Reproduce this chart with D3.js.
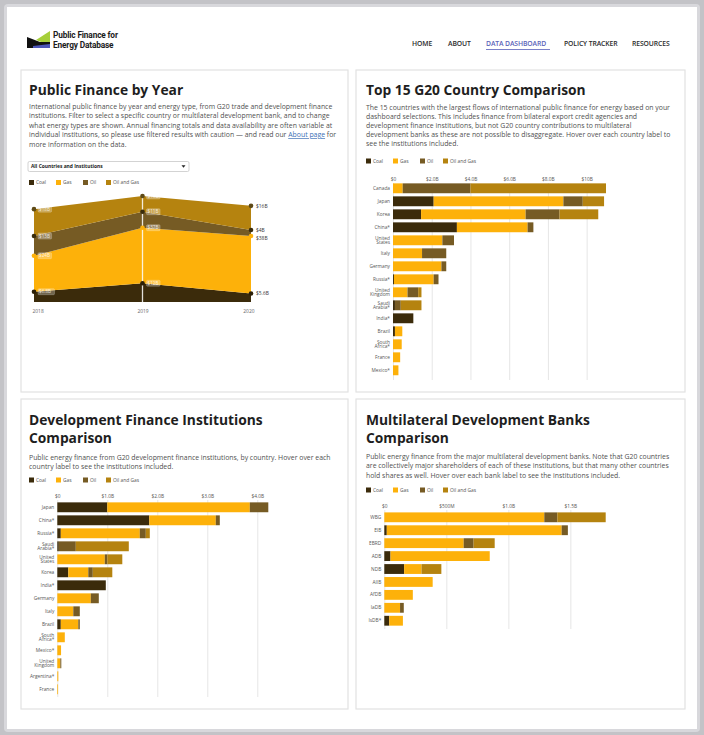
<!DOCTYPE html>
<html><head><meta charset="utf-8">
<script src="https://cdn.jsdelivr.net/npm/d3@7"></script>
<style>
html,body{margin:0;padding:0;background:#c3c3c7;}
svg{display:block;font-family:"Open Sans",sans-serif;}
</style></head><body>
<svg id="page" width="704" height="735"></svg>
<script>
// ---- energy types ----
const energyTypes = ["Coal", "Gas", "Oil", "Oil and Gas"];
const energyColors = ["#3b2b0b", "#fdb10a", "#765b24", "#b5830f"];

// ---- public finance by year ($B) ----
const years = ["2018", "2019", "2020"];
const coalByYear = [6.8, 12.4, 5.6];
const gasByYear = [23.8, 36.7, 38];
const oilByYear = [13.0, 10.6, 4];
const oilGasByYear = [17.8, 10.4, 16];

// ---- top 15 G20 countries ($B) ----
const g20Countries = ["Canada", "Japan", "Korea", "China*", "United States", "Italy", "Germany", "Russia*",
  "United Kingdom", "Saudi Arabia*", "India*", "Brazil", "South Africa*", "France", "Mexico*"];
const g20Coal   = [0, 2.1, 1.45, 3.3, 0, 0, 0, 0.05, 0, 0.1, 1.05, 0.1, 0, 0, 0];
const g20Gas    = [0.5, 6.7, 5.4, 3.65, 2.55, 1.5, 2.5, 2.05, 0.75, 0, 0, 0.38, 0.45, 0.37, 0.28];
const g20Oil    = [3.5, 1.0, 1.75, 0.3, 0.6, 1.25, 0.25, 0.25, 0.55, 0.3, 0, 0, 0, 0, 0];
const g20OilGas = [7.0, 1.1, 2.0, 0, 0, 0, 0, 0, 0.17, 1.07, 0, 0, 0, 0, 0];
const g20Ticks = [0, 2, 4, 6, 8, 10];

// ---- development finance institutions ($B) ----
const dfiCountries = ["Japan", "China*", "Russia*", "Saudi Arabia*", "United States", "Korea", "India*", "Germany",
  "Italy", "Brazil", "South Africa*", "Mexico*", "United Kingdom", "Argentina*", "France"];
const dfiCoal   = [1.0, 1.84, 0.07, 0.03, 0, 0.22, 0.97, 0, 0, 0.07, 0, 0, 0, 0, 0];
const dfiGas    = [2.85, 1.33, 1.58, 0, 0.95, 0.4, 0, 0.67, 0.32, 0.35, 0.15, 0.075, 0.06, 0.02, 0.015];
const dfiOil    = [0.37, 0.08, 0.12, 0.34, 0.05, 0.09, 0, 0.16, 0.13, 0.03, 0, 0, 0.02, 0, 0];
const dfiOilGas = [0, 0, 0.08, 1.06, 0.3, 0.39, 0, 0, 0, 0, 0, 0, 0, 0, 0];
const dfiTicks = [0, 1, 2, 3, 4];

// ---- multilateral development banks ($B) ----
const banks = ["WBG", "EIB", "EBRD", "ADB", "NDB", "AIIB", "AfDB", "IaDB", "IsDB*"];
const mdbCoal   = [0, 0.02, 0, 0.05, 0.16, 0, 0, 0, 0.04];
const mdbGas    = [1.29, 1.41, 0.64, 0.80, 0.14, 0.39, 0.23, 0.127, 0.11];
const mdbOil    = [0.105, 0.05, 0.08, 0, 0, 0, 0, 0.03, 0];
const mdbOilGas = [0.39, 0, 0.17, 0, 0.16, 0, 0, 0, 0];
const mdbTicks = [0, 0.5, 1, 1.5];

const navItems = ["HOME", "ABOUT", "DATA DASHBOARD", "POLICY TRACKER", "RESOURCES"];

const svg = d3.select("#page");
const color = d3.scaleOrdinal().domain(energyTypes).range(energyColors);

function fmtB(v) {
  if (v === 0) return "$0";
  if (v < 1) return "$" + Math.round(v * 1000) + "M";
  return v >= 10 ? "$" + Math.round(v) + "B" : "$" + v.toFixed(1) + "B";
}
function fmtShort(v) {
  return v >= 10 ? "$" + Math.round(v) + "B" : "$" + (+v.toFixed(1)) + "B";
}
function rows(cats, a, b, c, d) {
  return cats.map((k, i) => ({key: k, "Coal": a[i], "Gas": b[i], "Oil": c[i], "Oil and Gas": d[i]}));
}

// ---- page frame ----
svg.append("rect").attr("x", 0).attr("y", 0).attr("width", 704).attr("height", 735).attr("fill", "#c3c3c7");
svg.append("rect").attr("x", 4).attr("y", 4).attr("width", 696).attr("height", 728).attr("rx", 4).attr("fill", "#d8d8dc");
svg.append("rect").attr("x", 7).attr("y", 7).attr("width", 690).attr("height", 722).attr("fill", "#ffffff");

// ---- header ----
const logo = svg.append("g");
logo.append("polygon").attr("points", "27,37 40,42 50,42 50,46 27,46").attr("fill", "#111");
logo.append("polygon").attr("points", "36,40 50,31 50,42 41,42").attr("fill", "#a6cf3a");
logo.append("polygon").attr("points", "33,46 50,44 50,48 33,48").attr("fill", "#4d56b8");
logo.append("polygon").attr("points", "27,46 33,46 33,48 27,48").attr("fill", "#111");
const logoText = logo.append("g").attr("font-family", "Roboto").attr("font-size", 8.3).attr("font-weight", 700)
  .attr("fill", "#1c1c1c").attr("letter-spacing", -0.15);
logoText.append("text").attr("x", 53).attr("y", 38).text("Public Finance for");
logoText.append("text").attr("x", 53).attr("y", 47.8).text("Energy Database");

const navX = [412, 448, 486, 564, 632];
const nav = svg.append("g").attr("font-size", 6.8).attr("font-weight", 600);
nav.selectAll("text").data(navItems).join("text")
  .attr("x", (d, i) => navX[i]).attr("y", 45.5)
  .attr("fill", d => d === "DATA DASHBOARD" ? "#5a62b8" : "#2a2a2a")
  .attr("letter-spacing", -0.1)
  .text(d => d);
nav.append("line").attr("x1", 486).attr("x2", 550).attr("y1", 49.5).attr("y2", 49.5)
  .attr("stroke", "#7a80c8").attr("stroke-width", 1);

// ---- panels ----
const panels = [
  {x: 21, y: 70, w: 327, h: 322},
  {x: 356, y: 70, w: 329, h: 322},
  {x: 21, y: 399, w: 327, h: 310},
  {x: 356, y: 399, w: 329, h: 310}
];
svg.selectAll("rect.panel").data(panels).join("rect").attr("class", "panel")
  .attr("x", d => d.x).attr("y", d => d.y).attr("width", d => d.w).attr("height", d => d.h)
  .attr("fill", "#fff").attr("stroke", "#e2e2e2").attr("stroke-width", 1.2);

function title(x, y, lines) {
  const t = svg.append("text").attr("font-size", 13.8).attr("font-weight", 700).attr("fill", "#1e1e1e");
  lines.forEach((l, i) => t.append("tspan").attr("x", x).attr("y", y + i * 18.5).text(l));
}
function desc(x, y, lines, lh) {
  const t = svg.append("text").attr("font-size", 6.9).attr("fill", "#505050");
  lines.forEach((l, i) => {
    const ts = t.append("tspan").attr("x", x).attr("y", y + i * lh).attr("fill", "#505050");
    if (Array.isArray(l)) {
      l.forEach(part => {
        const s = ts.append("tspan").text(part.t);
        if (part.link) s.attr("fill", "#3a6fb5").attr("text-decoration", "underline");
      });
    } else ts.text(l);
  });
}
function legend(x, y) {
  const offs = [0, 27, 54, 77];
  const g = svg.append("g").attr("font-size", 4.9).attr("fill", "#555");
  energyTypes.forEach((e, i) => {
    g.append("rect").attr("x", x + offs[i]).attr("y", y - 2.5).attr("width", 5).attr("height", 5).attr("fill", color(e));
    g.append("text").attr("x", x + offs[i] + 7).attr("y", y + 1.8).text(e);
  });
}

// ---- panel 1: by year ----
title(29, 95, ["Public Finance by Year"]);
desc(29, 108.5, [
  "International public finance by year and energy type, from G20 trade and development finance",
  "institutions. Filter to select a specific country or multilateral development bank, and to change",
  "what energy types are shown. Annual financing totals and data availability are often variable at",
  [{t: "individual institutions, so please use filtered results with caution — and read our "}, {t: "About page", link: true}, {t: " for"}],
  "more information on the data."
], 9.6);
svg.append("rect").attr("x", 28).attr("y", 161.5).attr("width", 161).attr("height", 10).attr("rx", 1.5)
  .attr("fill", "#fff").attr("stroke", "#c8c8c8").attr("stroke-width", 0.8);
svg.append("text").attr("x", 31).attr("y", 168.4).attr("font-size", 4.9).attr("font-weight", 700).attr("fill", "#222")
  .text("All Countries and Institutions");
svg.append("path").attr("d", "M181.5,165.3 L185.5,165.3 L183.5,167.8 Z").attr("fill", "#222");
legend(29, 182.5);

const yearRows = rows(years, coalByYear, gasByYear, oilByYear, oilGasByYear);
const yearStack = d3.stack().keys(energyTypes)(yearRows);
const xYear = d3.scalePoint().domain(years).range([34, 251]);
const yYear = d3.scaleLinear().domain([0, d3.max(yearStack[3], d => d[1])]).range([302, 196]);
const area = d3.area().x(d => xYear(d.data.key)).y0(d => yYear(d[0])).y1(d => yYear(d[1]));
const areaG = svg.append("g");
areaG.selectAll("path").data(yearStack).join("path")
  .attr("d", area).attr("fill", d => color(d.key));
areaG.append("line").attr("x1", xYear("2019")).attr("x2", xYear("2019"))
  .attr("y1", yYear(d3.max(yearStack[3], d => d[1]))).attr("y2", 302)
  .attr("stroke", "#fff").attr("stroke-width", 1.3).attr("opacity", 0.85);
const dotColor = {"Coal": "#2b1f07", "Gas": "#fdb10a", "Oil": "#3a2c0c", "Oil and Gas": "#5e4a17"};
yearStack.forEach(layer => {
  layer.forEach(d => {
    const cx = xYear(d.data.key), cy = yYear(d[1]);
    areaG.append("circle").attr("cx", cx).attr("cy", cy).attr("r", 2.3).attr("fill", dotColor[layer.key]);
    const val = d.data[layer.key];
    if (d.data.key === "2020") {
      areaG.append("text").attr("x", cx + 5).attr("y", cy + (layer.key === "Gas" ? 3.8 : 1.8))
        .attr("font-size", 4.9).attr("fill", "#333").text(fmtShort(val));
    } else {
      const lbl = fmtShort(val);
      const w = lbl.length * 2.9 + 2;
      areaG.append("rect").attr("x", cx + 4).attr("y", cy - 3).attr("width", w).attr("height", 6).attr("rx", 1)
        .attr("fill", "#fff").attr("fill-opacity", 0.28).attr("stroke", "#fff").attr("stroke-opacity", 0.5).attr("stroke-width", 0.4);
      areaG.append("text").attr("x", cx + 5).attr("y", cy + 1.7).attr("font-size", 4.6)
        .attr("fill", "#fff").attr("fill-opacity", 0.8).text(lbl);
    }
  });
});
areaG.append("g").attr("transform", "translate(0,305)")
  .call(d3.axisBottom(xYear).tickSize(0).tickPadding(5))
  .call(g => g.select(".domain").remove())
  .call(g => g.selectAll("text").attr("font-size", 4.9).attr("fill", "#666").attr("font-family", "Open Sans"))
  .call(g => {
    g.selectAll(".tick").filter(d => d === "2018").select("text").attr("text-anchor", "start").attr("dx", -2);
    g.selectAll(".tick").filter(d => d === "2020").select("text").attr("text-anchor", "end").attr("dx", 3);
  });

// ---- stacked bar helper ----
const twoLine = {
  "United States": ["United", "States"],
  "United Kingdom": ["United", "Kingdom"],
  "Saudi Arabia*": ["Saudi", "Arabia*"],
  "South Africa*": ["South", "Africa*"]
};
function barChart(o) {
  const data = rows(o.cats, o.coal, o.gas, o.oil, o.oilGas);
  const stack = d3.stack().keys(energyTypes)(data);
  const x = d3.scaleLinear().domain([0, d3.max(stack[3], d => d[1])]).range([o.x0, o.x1]);
  const y = d3.scaleBand().domain(o.cats)
    .range([o.firstCenter - o.step / 2, o.firstCenter - o.step / 2 + o.step * o.cats.length])
    .paddingInner(0.24).paddingOuter(0.12);
  const g = svg.append("g");
  g.append("g").attr("transform", `translate(0,${o.axisY})`)
    .call(d3.axisTop(x).tickValues(o.ticks).tickFormat(o.fmt).tickSize(-(o.gridBottom - o.axisY)).tickPadding(2))
    .call(a => a.select(".domain").remove())
    .call(a => a.selectAll("line").attr("stroke", "#e3e3e3").attr("stroke-width", 0.9))
    .call(a => a.selectAll("text").attr("font-size", 4.8).attr("fill", "#555").attr("font-family", "Open Sans"));
  g.selectAll("g.layer").data(stack).join("g").attr("class", "layer").attr("fill", d => color(d.key))
    .selectAll("rect").data(d => d).join("rect")
    .attr("x", d => x(d[0])).attr("width", d => Math.max(0, x(d[1]) - x(d[0])))
    .attr("y", d => y(d.data.key)).attr("height", y.bandwidth());
  const lab = g.append("g").attr("font-size", 4.8).attr("fill", "#555").attr("text-anchor", "end");
  o.cats.forEach(c => {
    const cy = y(c) + y.bandwidth() / 2;
    const parts = twoLine[c] || [c];
    const t = lab.append("text");
    parts.forEach((p, i) => t.append("tspan").attr("x", o.x0 - 3)
      .attr("y", cy + 1.6 + (i - (parts.length - 1) / 2) * 4.7).text(p));
  });
}

// ---- panel 2: top 15 G20 ----
title(366, 95, ["Top 15 G20 Country Comparison"]);
desc(366, 110, [
  "The 15 countries with the largest flows of international public finance for energy based on your",
  "dashboard selections. This includes finance from bilateral export credit agencies and",
  "development finance institutions, but not G20 country contributions to multilateral",
  "development banks as these are not possible to disaggregate. Hover over each country label to",
  "see the institutions included."
], 9.1);
legend(366, 161);
barChart({cats: g20Countries, coal: g20Coal, gas: g20Gas, oil: g20Oil, oilGas: g20OilGas,
  x0: 393, x1: 606, axisY: 183, gridBottom: 380, firstCenter: 188.3, step: 13.0,
  ticks: g20Ticks, fmt: fmtB});

// ---- panel 3: DFIs ----
title(29, 424.5, ["Development Finance Institutions", "Comparison"]);
desc(29, 459.5, [
  "Public energy finance from G20 development finance institutions, by country. Hover over each",
  "country label to see the institutions included."
], 9.3);
legend(29, 480);
barChart({cats: dfiCountries, coal: dfiCoal, gas: dfiGas, oil: dfiOil, oilGas: dfiOilGas,
  x0: 57.3, x1: 268.3, axisY: 500, gridBottom: 697, firstCenter: 507.3, step: 13.0,
  ticks: dfiTicks, fmt: fmtB});

// ---- panel 4: MDBs ----
title(366, 424.5, ["Multilateral Development Banks", "Comparison"]);
desc(366, 458.5, [
  "Public energy finance from the major multilateral development banks. Note that G20 countries",
  "are collectively major shareholders of each of these institutions, but that many other countries",
  "hold shares as well. Hover over each bank label to see the institutions included."
], 9.5);
legend(366, 490);
barChart({cats: banks, coal: mdbCoal, gas: mdbGas, oil: mdbOil, oilGas: mdbOilGas,
  x0: 384.3, x1: 605.7, axisY: 510, gridBottom: 629, firstCenter: 517.3, step: 12.93,
  ticks: mdbTicks, fmt: fmtB});
</script>
</body></html>
